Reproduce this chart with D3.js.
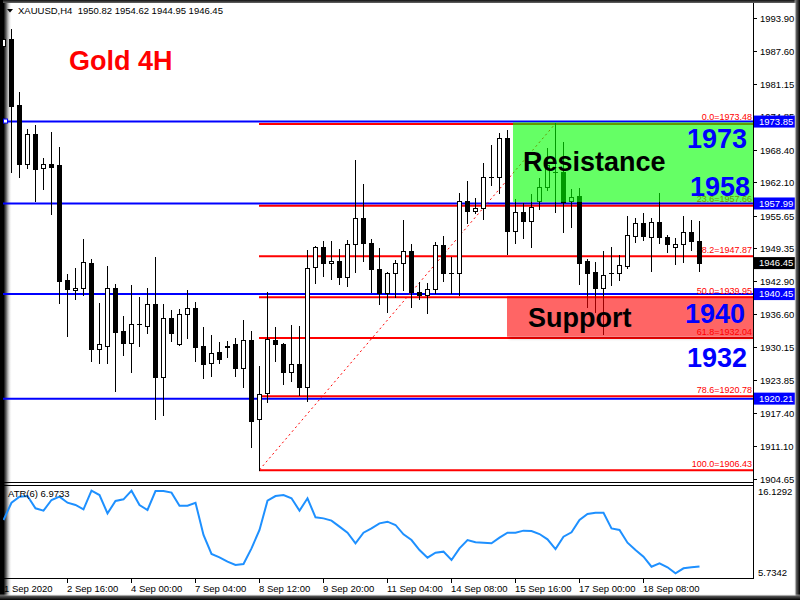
<!DOCTYPE html>
<html><head><meta charset="utf-8">
<script src="https://cdn.jsdelivr.net/npm/d3@7"></script>
<style>body{margin:0;background:#fff}svg{display:block}</style>
</head><body><svg id="c" width="800" height="600"></svg>
<script>
// ---- DATA ----
const startIndex = -1;
const opens  = [1988.48,1989.83,1977.06,1965.63,1971.44,1964.86,1965.63,1965.44,1943.17,1941.24,1941.63,1946.47,1929.82,1930.40,1941.63,1933.30,1930.98,1934.60,1934.27,1938.53,1924.39,1935.82,1930.78,1936.59,1937.75,1930.40,1927.10,1929.23,1930.20,1930.78,1926.14,1931.56,1916.26,1921.30,1931.56,1930.78,1925.36,1926.91,1922.46,1945.69,1949.56,1946.47,1946.85,1943.76,1950.14,1955.18,1950.34,1945.30,1940.66,1944.53,1946.47,1948.79,1940.85,1940.27,1941.43,1949.95,1944.47,1944.53,1958.47,1956.53,1957.11,1963.06,1963.12,1970.67,1952.66,1956.34,1954.60,1958.47,1961.18,1964.00,1964.08,1958.47,1959.44,1946.85,1944.72,1941.63,1944.47,1944.53,1945.89,1951.69,1954.21,1951.50,1954.40,1951.50,1949.56,1950.14,1952.47,1950.82];
const highs  = [1990.42,1991.77,1979.57,1972.41,1973.18,1966.79,1971.83,1968.92,1944.34,1945.50,1951.11,1947.24,1938.72,1945.89,1942.40,1936.20,1942.21,1939.88,1941.63,1947.63,1938.53,1937.37,1937.56,1941.24,1938.92,1934.08,1932.53,1931.17,1931.36,1931.95,1935.43,1933.30,1926.52,1940.85,1934.08,1930.98,1934.46,1934.27,1948.98,1949.76,1950.73,1950.73,1949.18,1950.92,1966.41,1961.76,1951.11,1949.37,1944.72,1947.05,1954.79,1950.14,1942.79,1942.59,1950.53,1951.69,1947.63,1960.02,1962.34,1959.05,1965.83,1969.31,1971.64,1972.22,1958.86,1958.08,1959.83,1962.92,1968.73,1973.48,1969.89,1960.79,1960.99,1947.24,1946.66,1948.79,1949.56,1948.01,1955.57,1955.18,1956.15,1955.18,1960.02,1951.89,1951.31,1955.57,1954.79,1954.62];
const lows   = [1987.70,1964.08,1963.12,1964.86,1958.47,1960.79,1955.95,1938.72,1932.33,1939.50,1940.27,1927.49,1927.10,1927.10,1921.68,1928.65,1925.36,1930.40,1932.91,1916.26,1917.04,1931.36,1930.59,1931.95,1927.49,1924.20,1924.59,1927.10,1928.27,1924.59,1922.46,1910.84,1906.43,1919.55,1927.49,1923.04,1923.62,1920.91,1919.75,1942.59,1943.95,1943.37,1942.40,1942.01,1944.72,1946.85,1940.85,1938.53,1936.98,1939.88,1941.24,1937.95,1939.50,1936.79,1940.66,1942.98,1940.66,1940.27,1954.21,1956.15,1954.98,1961.57,1960.02,1948.21,1950.34,1951.31,1949.56,1956.92,1960.60,1956.34,1952.47,1953.44,1942.40,1937.95,1936.98,1932.72,1942.21,1943.17,1945.50,1950.53,1950.92,1944.92,1950.34,1948.60,1946.27,1946.66,1948.98,1944.95];
const closes = [1989.83,1976.86,1965.63,1971.44,1964.67,1965.63,1965.05,1942.98,1941.43,1941.63,1946.66,1929.82,1930.78,1941.63,1933.11,1930.98,1934.66,1934.66,1938.53,1924.39,1935.82,1932.91,1936.59,1937.75,1930.20,1926.91,1929.04,1927.88,1930.40,1926.14,1931.56,1915.87,1921.10,1931.75,1930.78,1925.36,1926.91,1922.46,1945.50,1949.56,1946.47,1946.85,1943.76,1950.14,1955.18,1950.34,1945.30,1940.66,1944.53,1946.47,1948.79,1940.85,1940.27,1941.43,1949.95,1944.53,1944.53,1958.47,1956.53,1957.11,1963.12,1963.12,1970.67,1952.66,1956.34,1954.60,1957.31,1961.18,1965.44,1964.08,1958.28,1959.24,1946.47,1944.53,1941.63,1944.14,1944.53,1946.08,1951.89,1954.21,1951.69,1954.40,1951.50,1950.14,1950.14,1952.47,1950.73,1946.45];
const atrValues = [12.47,14.51,15.22,15.30,13.85,13.57,14.83,15.22,14.51,14.24,13.73,15.93,15.42,13.25,14.71,14.91,15.93,14.24,13.65,15.89,15.89,15.70,14.16,14.16,14.51,10.70,8.45,8.06,7.55,7.15,7.27,9.12,11.29,14.75,15.30,15.42,15.03,13.57,15.03,12.78,12.66,12.39,11.68,10.97,9.71,10.97,11.48,12.07,12.27,11.88,10.77,10.10,8.92,8.02,8.61,8.73,7.74,9.12,10.10,9.83,9.79,9.71,10.38,10.97,10.97,11.21,11.17,10.81,10.18,9.04,10.50,11.01,12.47,13.18,13.33,13.33,11.48,11.29,9.79,8.92,8.14,6.95,7.35,6.88,6.17,6.76,6.88,6.9733];
const timeTickIdx = [7,15,23,31,39,47,55,63,71,79];
const timeTickLabels = ["2 Sep 16:00","4 Sep 00:00","7 Sep 04:00","8 Sep 12:00","9 Sep 20:00","11 Sep 04:00","14 Sep 08:00","15 Sep 16:00","17 Sep 00:00","18 Sep 08:00"];
const priceTicks = [1993.90,1987.60,1981.15,1974.85,1968.40,1962.10,1955.65,1949.35,1942.90,1936.60,1930.15,1923.85,1917.40,1911.10,1904.65];
const blueLevels = [1973.85,1957.99,1940.45,1920.21];
const fibLevels = ["0.0","23.6","38.2","50.0","61.8","78.6","100.0"];
const fibPrices = [1973.48,1957.66,1947.87,1939.95,1932.04,1920.78,1906.43];
const fibStartIdx = 31, fibEndIdx = 68;
const lastPrice = 1946.45;
const atrMin = 5.7342, atrMax = 16.1292;

// ---- SCALES ----
const svg = d3.select('#c');
const FONT = 'Liberation Sans, Arial, sans-serif';
const x = d3.scaleLinear().domain([0, 86]).range([11, 699]);
const y = d3.scaleLinear().domain([1904.65, 1993.90]).range([479, 18]);
const ya = d3.scaleLinear().domain([atrMin, atrMax]).range([577, 489]);
const candles = opens.map((o,k)=>({i:k+startIndex,o,h:highs[k],l:lows[k],c:closes[k]}));

const defs = svg.append('defs');
const gl = defs.append('linearGradient').attr('id','gl').attr('x1',0).attr('x2',1).attr('y1',0).attr('y2',0);
gl.append('stop').attr('offset','0%').attr('stop-color','#000');
gl.append('stop').attr('offset','30%').attr('stop-color','#000');
gl.append('stop').attr('offset','55%').attr('stop-color','#777');
gl.append('stop').attr('offset','100%').attr('stop-color','#fff').attr('stop-opacity',0);
const gr = defs.append('linearGradient').attr('id','gr').attr('x1',0).attr('x2',1).attr('y1',0).attr('y2',1e-9);
gr.append('stop').attr('offset','0%').attr('stop-color','#fff').attr('stop-opacity',0);
gr.append('stop').attr('offset','35%').attr('stop-color','#666');
gr.append('stop').attr('offset','100%').attr('stop-color','#000');
const gb = defs.append('linearGradient').attr('id','gb').attr('x1',0).attr('x2',0).attr('y1',0).attr('y2',1);
gb.append('stop').attr('offset','0%').attr('stop-color','#fff').attr('stop-opacity',0);
gb.append('stop').attr('offset','35%').attr('stop-color','#555');
gb.append('stop').attr('offset','100%').attr('stop-color','#000');
const gt = defs.append('linearGradient').attr('id','gt').attr('x1',0).attr('x2',0).attr('y1',0).attr('y2',1);
gt.append('stop').attr('offset','0%').attr('stop-color','#111');
gt.append('stop').attr('offset','100%').attr('stop-color','#666');
defs.append('clipPath').attr('id','cm').append('rect').attr('x',3).attr('y',3).attr('width',750).attr('height',479);
defs.append('clipPath').attr('id','ca').append('rect').attr('x',3).attr('y',486).attr('width',750).attr('height',92);
const sh = defs.append('filter').attr('id','sh').attr('x','-5%').attr('y','-10%').attr('width','115%').attr('height','130%');
sh.append('feDropShadow').attr('dx',2).attr('dy',2).attr('stdDeviation',1.5).attr('flood-color','#000').attr('flood-opacity',0.35);

svg.append('rect').attr('width',800).attr('height',600).attr('fill','#fff');
svg.append('rect').attr('x',0).attr('y',0).attr('width',12).attr('height',600).attr('fill','url(#gl)');

// ---- MAIN PANEL ----
const main = svg.append('g').attr('clip-path','url(#cm)');
main.selectAll('.bl').data(blueLevels).join('line')
  .attr('x1',3).attr('x2',753).attr('y1',d=>y(d)).attr('y2',d=>y(d))
  .attr('stroke','#0000ff').attr('stroke-width',2);
main.append('rect').attr('x',3.5).attr('y',y(blueLevels[0])-2.5).attr('width',4).attr('height',4)
  .attr('fill','#fff').attr('stroke','#0000ff');
main.selectAll('.fl').data(fibPrices).join('line')
  .attr('x1',x(fibStartIdx)).attr('x2',753).attr('y1',d=>y(d)+0.5).attr('y2',d=>y(d)+0.5)
  .attr('stroke','#ff0000').attr('stroke-width',2);
main.append('line').attr('x1',x(fibStartIdx)+0.5).attr('y1',y(fibPrices[6]))
  .attr('x2',x(fibEndIdx)+0.5).attr('y2',y(fibPrices[0]))
  .attr('stroke','#ff0000').attr('stroke-width',1).attr('stroke-dasharray','2,3');
main.selectAll('.ft').data(fibPrices).join('text')
  .attr('x',752).attr('y',d=>y(d)-3).attr('text-anchor','end')
  .attr('font-family',FONT).attr('font-size',9).attr('fill','#ff0000')
  .text((d,k)=>fibLevels[k]+'='+d.toFixed(2));
const cg = main.append('g');
candles.forEach(d=>{
  const cx = Math.round(x(d.i));
  cg.append('line').attr('x1',cx+0.5).attr('x2',cx+0.5)
    .attr('y1',Math.round(y(d.h))).attr('y2',Math.round(y(d.l))+1).attr('stroke','#000');
  const top = Math.round(Math.min(y(d.o),y(d.c))), bot = Math.round(Math.max(y(d.o),y(d.c)));
  if (bot - top < 1) {
    cg.append('line').attr('x1',cx-2).attr('x2',cx+3).attr('y1',top+0.5).attr('y2',top+0.5).attr('stroke','#000');
  } else if (d.c >= d.o) {
    cg.append('rect').attr('x',cx-1.5).attr('y',top+0.5).attr('width',4).attr('height',Math.max(1,bot-top))
      .attr('fill','#fff').attr('stroke','#000');
  } else {
    cg.append('rect').attr('x',cx-2).attr('y',top).attr('width',5).attr('height',bot-top+1).attr('fill','#000');
  }
});
main.append('rect').attr('x',x(62.75)).attr('y',y(1973.70)).attr('width',753-x(62.75))
  .attr('height',y(1958.30)-y(1973.70)).attr('fill','rgb(0,255,0)').attr('opacity',0.6).attr('filter','url(#sh)');
main.append('rect').attr('x',x(62)).attr('y',y(1940.05)).attr('width',753-x(62))
  .attr('height',y(1932.20)-y(1940.05)).attr('fill','rgb(255,0,0)').attr('opacity',0.6).attr('filter','url(#sh)');

function big(t, xx, yy, col, anchor){
  svg.append('text').attr('x',xx).attr('y',yy).attr('text-anchor',anchor||'start')
    .attr('font-family',FONT).attr('font-weight','bold').attr('font-size',27).attr('fill',col).text(t);
}
big('Gold 4H',69,70,'#ff0000');
big('Resistance',523,171,'#000');
big('Support',528,327,'#000');
big('1973',747,148,'#0000ff','end');
big('1958',750,196,'#0000ff','end');
big('1940',745,323,'#0000ff','end');
big('1932',747,367,'#0000ff','end');

// ---- ATR PANEL ----
const atrG = svg.append('g').attr('clip-path','url(#ca)');
atrG.append('path').datum(atrValues)
  .attr('d', d3.line().x((v,k)=>x(k+startIndex)+0.5).y(v=>ya(v)))
  .attr('fill','none').attr('stroke','#1e90ff').attr('stroke-width',2);
svg.append('text').attr('x',8).attr('y',497).attr('font-family',FONT).attr('font-size',9.5).attr('fill','#000').text('ATR(6) 6.9733');

const ln = (x1,y1,x2,y2)=>svg.append('line').attr('x1',x1).attr('y1',y1).attr('x2',x2).attr('y2',y2).attr('stroke','#000');
ln(0,482.5,753.5,482.5);
ln(0,485.5,753.5,485.5);
ln(0,578.5,753.5,578.5);
ln(753.5,3,753.5,579);

const pa = svg.append('g');
priceTicks.forEach(p=>{
  const yy = Math.round(y(p))+0.5;
  pa.append('line').attr('x1',753).attr('x2',757).attr('y1',yy).attr('y2',yy).attr('stroke','#000');
  pa.append('text').attr('x',760).attr('y',yy).attr('dy','0.35em').attr('font-family',FONT).attr('font-size',9.5).attr('fill','#000').text(p.toFixed(2));
});
blueLevels.forEach(p=>{
  const yy = y(p);
  pa.append('rect').attr('x',754).attr('y',yy-6).attr('width',41).attr('height',12).attr('fill','#0000ff');
  pa.append('text').attr('x',759).attr('y',yy).attr('dy','0.35em').attr('font-family',FONT).attr('font-size',9.5).attr('fill','#fff').text(p.toFixed(2));
});
pa.append('rect').attr('x',754).attr('y',y(lastPrice)-6).attr('width',41).attr('height',12).attr('fill','#000');
pa.append('text').attr('x',759).attr('y',y(lastPrice)).attr('dy','0.35em').attr('font-family',FONT).attr('font-size',9.5).attr('fill','#fff').text(lastPrice.toFixed(2));
pa.append('text').attr('x',758).attr('y',495).attr('font-family',FONT).attr('font-size',9.5).text(atrMax.toFixed(4));
pa.append('text').attr('x',758).attr('y',576).attr('font-family',FONT).attr('font-size',9.5).text(atrMin.toFixed(4));

svg.append('text').attr('x',4).attr('y',592).attr('font-family',FONT).attr('font-size',9.5).text('1 Sep 2020');
timeTickIdx.forEach((ti,k)=>{
  const xx = Math.round(x(ti));
  ln(xx+0.5,579,xx+0.5,583);
  svg.append('text').attr('x',xx).attr('y',592).attr('font-family',FONT).attr('font-size',9.5).text(timeTickLabels[k]);
});

svg.append('path').attr('d','M7,9 L13,9 L10,12.5 Z').attr('fill','#000');
svg.append('text').attr('x',18).attr('y',14).attr('font-family',FONT).attr('font-size',9.5).attr('fill','#000')
  .text('XAUUSD,H4\u00a0\u00a01950.82 1954.62 1944.95 1946.45');

svg.append('rect').attr('x',0).attr('y',0).attr('width',800).attr('height',3).attr('fill','url(#gt)');
svg.append('rect').attr('x',0).attr('y',0).attr('width',3).attr('height',600).attr('fill','#000');
svg.append('rect').attr('x',794).attr('y',0).attr('width',6).attr('height',600).attr('fill','url(#gr)');
svg.append('rect').attr('x',0).attr('y',594).attr('width',800).attr('height',6).attr('fill','url(#gb)');
</script></body></html>
